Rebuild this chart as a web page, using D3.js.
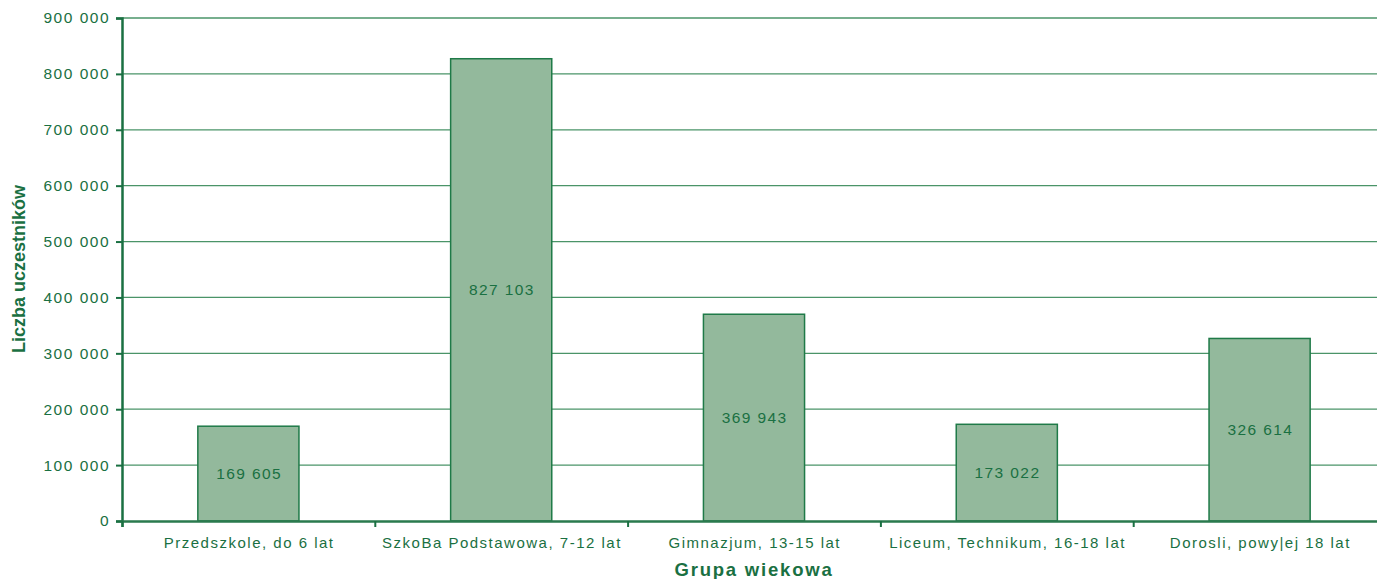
<!DOCTYPE html>
<html>
<head>
<meta charset="utf-8">
<script src="https://cdn.jsdelivr.net/npm/d3@7"></script>
<style>
  body { margin: 0; background: #fff; }
  text { font-family: "Liberation Sans", Arial, sans-serif; fill: #1a7042; }
</style>
</head>
<body>
<script>
const WIDTH = 1377;
const HEIGHT = 579;
const MARGIN = {top: 18, right: -9, bottom: 58, left: 122};

const categories = ['Przedszkole, do 6 lat', 'SzkoBa Podstawowa, 7-12 lat', 'Gimnazjum, 13-15 lat', 'Liceum, Technikum, 16-18 lat', 'Dorosli, powy|ej 18 lat'];
const values = [169605, 827103, 369943, 173022, 326614];
const yTicks = [0, 100000, 200000, 300000, 400000, 500000, 600000, 700000, 800000, 900000];

const GREEN = '#1a7042';
const fmt = function(v){ return d3.format(',')(v).replace(/,/g, ' '); };

var svg = d3.select('body').append('svg')
	.attr('width', WIDTH)
	.attr('height', HEIGHT);

var x = d3.scaleBand()
	.domain(categories)
	.range([MARGIN.left, WIDTH - MARGIN.right])
	.paddingInner(0.6)
	.paddingOuter(0.3);

var xEdges = d3.scaleLinear()
	.domain([0, categories.length])
	.range([MARGIN.left, WIDTH - MARGIN.right]);

var y = d3.scaleLinear()
	.domain([0, 900000])
	.range([HEIGHT - MARGIN.bottom, MARGIN.top]);

// gridlines
svg.append('g')
	.selectAll('line')
	.data(yTicks.slice(1))
	.enter().append('line')
	.attr('x1', MARGIN.left)
	.attr('x2', WIDTH)
	.attr('y1', function(d){ return y(d); })
	.attr('y2', function(d){ return y(d); })
	.style('stroke', '#4a9468')
	.style('stroke-width', 1.3);

// bars
svg.append('g')
	.selectAll('rect')
	.data(values)
	.enter().append('rect')
	.attr('x', function(d, i){ return x(categories[i]); })
	.attr('width', x.bandwidth())
	.attr('y', function(d){ return y(d); })
	.attr('height', function(d){ return y(0) - y(d); })
	.style('fill', '#93b99c')
	.style('stroke', '#1f7a48')
	.style('stroke-width', 1.5);

// value labels
svg.append('g')
	.selectAll('text')
	.data(values)
	.enter().append('text')
	.attr('x', function(d, i){ return x(categories[i]) + x.bandwidth() / 2 + 0.7; })
	.attr('y', function(d){ return (y(d) + y(0)) / 2; })
	.attr('dy', '0.35em')
	.attr('text-anchor', 'middle')
	.style('font-size', '15.5px')
	.style('letter-spacing', '1.4px')
	.text(fmt);

// y axis
var yAxis = d3.axisLeft(y).tickValues(yTicks).tickSize(6).tickPadding(6).tickFormat(fmt);
var gy = svg.append('g')
	.attr('transform', 'translate(' + MARGIN.left + ',0)')
	.call(yAxis);
gy.select('.domain').style('stroke', GREEN).style('stroke-width', 2.5);
gy.selectAll('.tick line').style('stroke', GREEN).style('stroke-width', 2);
gy.selectAll('.tick text')
	.style('font-size', '15.5px')
	.style('letter-spacing', '1.5px')
	.style('font-family', '"Liberation Sans", Arial, sans-serif')
	.style('fill', GREEN);

// x axis (ticks at category boundaries)
var xAxis = d3.axisBottom(xEdges).tickValues(d3.range(categories.length + 1)).tickSize(6).tickFormat('');
var gx = svg.append('g')
	.attr('transform', 'translate(0,' + y(0) + ')')
	.call(xAxis);
gx.select('.domain').style('stroke', '#2a7a4e').style('stroke-width', 2.5);
gx.selectAll('.tick line').style('stroke', GREEN).style('stroke-width', 2);

svg.append('g')
	.selectAll('text')
	.data(categories)
	.enter().append('text')
	.attr('x', function(d){ return x(d) + x.bandwidth() / 2 + 0.75; })
	.attr('y', y(0) + 26.5)
	.attr('text-anchor', 'middle')
	.style('font-size', '15px')
	.style('letter-spacing', '1.5px')
	.text(function(d){ return d; });

// axis titles
svg.append('text')
	.attr('x', (MARGIN.left + WIDTH - MARGIN.right) / 2)
	.attr('y', 576)
	.attr('text-anchor', 'middle')
	.style('font-size', '18.5px')
	.style('font-weight', 'bold')
	.style('letter-spacing', '1.8px')
	.text('Grupa wiekowa');

svg.append('text')
	.attr('transform', 'translate(25,' + 269 + ') rotate(-90)')
	.attr('text-anchor', 'middle')
	.style('font-size', '18px')
	.style('font-weight', 'bold')
	.text('Liczba uczestników');
</script>
</body>
</html>
